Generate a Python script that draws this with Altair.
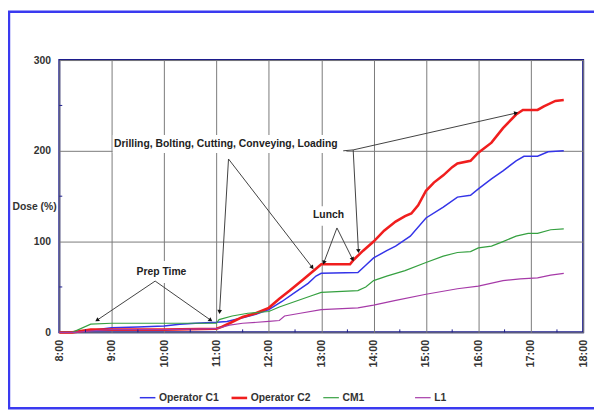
import math
import altair as alt
import pandas as pd

# ---------------- data ----------------
series_names = ["Operator C1", "Operator C2", "CM1", "L1"]
series_colors = ["#3434e8", "#f01e1e", "#35a040", "#a63aa8"]
series_widths = [1.5, 2.6, 1.2, 1.2]

c1_t = [8.0, 8.3, 8.7, 9.0, 9.5, 10.0, 10.3, 10.6, 11.0, 11.2, 11.5, 11.75, 12.0, 12.25, 12.5, 12.75, 12.9, 13.0, 13.7, 13.85, 14.0, 14.25, 14.42, 14.7, 15.0, 15.33, 15.6, 15.85, 16.0, 16.25, 16.47, 16.72, 16.87, 17.13, 17.33, 17.63]
c1_v = [0, 0, 3, 5, 6, 7, 9, 10, 11, 12, 16, 20, 25, 34, 44, 54, 62, 65, 66, 74, 82, 90, 95, 106, 126, 138, 149, 151, 158, 169, 178, 189, 194, 194, 199, 200]

c2_t = [8.0, 8.25, 8.6, 9.0, 10.0, 11.0, 11.1, 11.25, 11.5, 11.75, 12.0, 12.2, 12.4, 12.65, 12.9, 13.0, 13.55, 13.62, 13.8, 14.0, 14.2, 14.42, 14.6, 14.72, 14.85, 15.0, 15.15, 15.33, 15.5, 15.6, 15.85, 16.0, 16.25, 16.47, 16.72, 16.85, 17.0, 17.13, 17.25, 17.47, 17.63]
c2_v = [0, 0, 3, 3, 3, 4, 6, 10, 17, 21, 27, 37, 46, 58, 70, 75, 75, 80, 90, 100, 112, 122, 128, 131, 140, 156, 165, 173, 182, 186, 189, 198, 209, 225, 240, 245, 245, 245, 249, 255, 256]

cm1_t = [8.0, 8.25, 8.6, 9.0, 10.0, 11.0, 11.05, 11.3, 11.6, 12.0, 12.2, 12.5, 12.8, 13.0, 13.7, 13.85, 14.0, 14.25, 14.6, 15.0, 15.33, 15.6, 15.85, 16.0, 16.25, 16.47, 16.72, 16.95, 17.13, 17.38, 17.63]
cm1_v = [0, 0, 9, 10, 10, 10, 14, 18, 21, 23, 28, 34, 40, 44, 46, 50, 57, 62, 68, 77, 84, 88, 89, 93, 95, 100, 106, 109, 109, 113, 114]

l1_t = [8.0, 8.3, 8.7, 9.0, 10.0, 11.0, 11.25, 11.5, 12.0, 12.2, 12.3, 12.6, 13.0, 13.7, 14.0, 14.4, 15.0, 15.6, 16.0, 16.47, 16.8, 17.13, 17.38, 17.63]
l1_v = [0, 0, 2, 3, 3, 4, 8, 10, 12, 13, 18, 21, 25, 27, 30, 35, 42, 48, 51, 57, 59, 60, 63, 65]

x_ticks = [8, 9, 10, 11, 12, 13, 14, 15, 16, 17, 18]
y_ticks = [0, 100, 200, 300]
x_minor = [8.5, 9.5, 10.5, 11.5, 12.5, 13.5, 14.5, 15.5, 16.5, 17.5]
y_minor = [50, 150, 250]

# annotations (hours, dose)
note_text = ["Prep Time", "Drilling, Bolting, Cutting, Conveying, Loading", "Lunch"]
note_x = [9.95, 11.18, 13.14]
note_y = [66.5, 207.5, 129.5]
box_x1 = [9.42, 9.02, 12.77]
box_x2 = [10.48, 13.48, 13.52]
box_y1 = [54.5, 197.5, 117.5]
box_y2 = [78.5, 217.5, 139.0]

# arrow segments: tail (x1, y1) -> head (x2, y2); head flag marks arrowheads
arr_x1 = [9.83, 9.83, 11.23, 11.23, 13.42, 13.61, 13.61, 13.30, 13.30]
arr_y1 = [56.5, 56.5, 191.0, 191.0, 200.0, 201.0, 201.0, 115.0, 115.0]
arr_x2 = [8.72, 10.89, 12.83, 11.06, 13.61, 16.72, 13.71, 13.05, 13.60]
arr_y2 = [13.4, 13.4, 71.4, 22.5, 201.0, 241.6, 89.5, 76.8, 80.4]
arr_head = [1, 1, 1, 1, 0, 1, 1, 1, 1]

# ---------------- layout ----------------
W, H = 531, 276
X_DOM = [8, 18]
Y_DOM = [0, 300]
FONT = "Liberation Sans"

rows = []
for name, ts, vs in [("Operator C1", c1_t, c1_v), ("Operator C2", c2_t, c2_v),
                     ("CM1", cm1_t, cm1_v), ("L1", l1_t, l1_v)]:
    for t, v in zip(ts, vs):
        rows.append({"series": name, "t": t, "v": v})
df = pd.DataFrame(rows)

xs = alt.Scale(domain=X_DOM, nice=False, zero=False)
ys = alt.Scale(domain=Y_DOM, nice=False)

px_h = W / (X_DOM[1] - X_DOM[0])
px_d = H / (Y_DOM[1] - Y_DOM[0])

seg = pd.DataFrame({"x1": arr_x1, "y1": arr_y1, "x2": arr_x2, "y2": arr_y2, "head": arr_head})
angs = []
for a, b, c, d in zip(arr_x1, arr_y1, arr_x2, arr_y2):
    dx = (c - a) * px_h
    dy = -(d - b) * px_d
    angs.append(math.degrees(math.atan2(dx, -dy)) % 360)
seg["ang"] = angs
heads = seg[seg["head"] == 1]

notes = pd.DataFrame({"text": note_text, "x": note_x, "y": note_y})
boxes = pd.DataFrame({"x1": box_x1, "x2": box_x2, "y1": box_y1, "y2": box_y2})

base = alt.Chart(df)

lines = base.mark_line(interpolate="linear").encode(
    x=alt.X("t:Q", scale=xs, axis=alt.Axis(
        values=x_ticks, labelExpr="datum.value + ':00'", labelAngle=270,
        labelFont=FONT, labelFontSize=11, labelFontWeight="bold", labelColor="#333333",
        labelPadding=7, ticks=False, domain=False, grid=True, gridColor="#7a7a7a",
        gridWidth=1, title=None)),
    y=alt.Y("v:Q", scale=ys, axis=alt.Axis(
        values=y_ticks, labelFont=FONT, labelFontSize=10.5, labelFontWeight="bold",
        labelColor="#333333", labelPadding=9, ticks=False, domain=False, grid=True,
        gridColor="#7a7a7a", gridWidth=1, title="Dose (%)", titleAngle=0,
        titleFont=FONT, titleFontSize=10.5, titleFontWeight="bold", titleColor="#333333",
        titleAlign="left", titleBaseline="middle", titleX=-48, titleY=148)),
    color=alt.Color("series:N", scale=alt.Scale(domain=series_names, range=series_colors),
                    legend=alt.Legend(
                        title=None, orient="none", legendX=80, legendY=333,
                        direction="horizontal", columns=4, gridAlign="all",
                        columnPadding=7, symbolType="stroke", symbolSize=250,
                        symbolStrokeWidth=2.2, labelFont=FONT, labelFontSize=10.5,
                        labelFontWeight="bold", labelColor="#333333", labelOffset=2)),
    strokeWidth=alt.StrokeWidth("series:N", scale=alt.Scale(type="ordinal", domain=series_names,
                                                            range=series_widths),
                                legend=None),
    order=alt.Order("t:Q"),
)

white_boxes = alt.Chart(boxes).mark_rect(color="white").encode(
    x=alt.X("x1:Q", scale=xs), x2="x2:Q",
    y=alt.Y("y1:Q", scale=ys), y2="y2:Q")

arrows = alt.Chart(seg).mark_rule(color="#404040", strokeWidth=1).encode(
    x=alt.X("x1:Q", scale=xs), x2="x2:Q",
    y=alt.Y("y1:Q", scale=ys), y2="y2:Q")

arrowheads = alt.Chart(heads).mark_point(shape="triangle-up", filled=True, color="#111111",
                                         size=22, opacity=1).encode(
    x=alt.X("x2:Q", scale=xs), y=alt.Y("y2:Q", scale=ys),
    angle=alt.Angle("ang:Q", scale=None))

labels = alt.Chart(notes).mark_text(font=FONT, fontSize=10.5, fontWeight="bold",
                                    color="#222222", baseline="middle", align="center").encode(
    x=alt.X("x:Q", scale=xs), y=alt.Y("y:Q", scale=ys), text="text:N")

minor_x = alt.Chart(pd.DataFrame({"m": x_minor})).mark_rule(color="#1c1c8c", strokeWidth=1).encode(
    x=alt.X("m:Q", scale=xs), y=alt.value(H), y2=alt.value(H - 3))
minor_y = alt.Chart(pd.DataFrame({"m": y_minor})).mark_rule(color="#1c1c8c", strokeWidth=1).encode(
    y=alt.Y("m:Q", scale=ys), x=alt.value(0), x2=alt.value(3))

frame = alt.Chart(pd.DataFrame({"a": [0]})).mark_rect(
    fill=None, stroke="#3a3af0", strokeWidth=2.5).encode(
    x=alt.value(-51), x2=alt.value(W + 60), y=alt.value(-49), y2=alt.value(353))

chart = alt.layer(white_boxes, arrows, lines, arrowheads, labels, minor_x, minor_y, frame).properties(
    width=W, height=H,
    padding={"left": 52, "top": 50, "right": 11, "bottom": 80},
    autosize=alt.AutoSizeParams(type="none"),
    background="white",
).configure_view(stroke="#1c1c8c", strokeWidth=2)

chart.save("out.html", embed_options={"renderer": "svg", "actions": False})
